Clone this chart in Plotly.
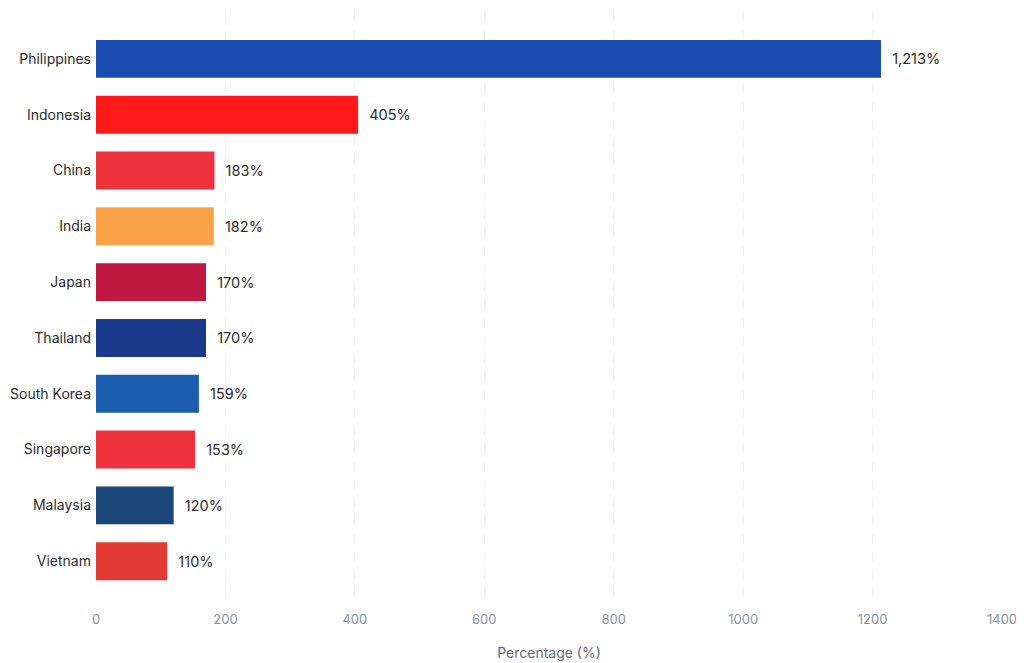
import plotly.graph_objects as go

countries = ["Philippines", "Indonesia", "China", "India", "Japan",
             "Thailand", "South Korea", "Singapore", "Malaysia", "Vietnam"]
percentages = [1213, 405, 183, 182, 170, 170, 159, 153, 120, 110]
bar_colors = ["#1a4bb0", "#ff1a1a", "#ee323c", "#fba348", "#c11a42",
              "#1c3a8c", "#1a5cad", "#ee323c", "#1a4778", "#e03a33"]
x_ticks = [0, 200, 400, 600, 800, 1000, 1200, 1400]

# leading spaces push the value labels away from the bar ends
labels = [f"  {v:,}%" for v in percentages]

fig = go.Figure(go.Bar(
    y=countries,
    x=percentages,
    orientation="h",
    marker=dict(color=bar_colors, line=dict(width=0)),
    width=0.68,
    text=labels,
    textposition="outside",
    textfont=dict(size=14.5, color="#2b2b2b"),
    cliponaxis=False,
))

# page body adds 8px margin, so the figure is sized/offset to compensate
fig.update_layout(
    width=1016,
    height=655,
    margin=dict(l=88, r=22, t=4, b=65),
    plot_bgcolor="white",
    paper_bgcolor="white",
    font=dict(family="Inter, Open Sans, sans-serif", color="#2b2b2b"),
    showlegend=False,
    xaxis=dict(
        range=[0, 1400],
        tickvals=x_ticks,
        ticktext=[str(t) for t in x_ticks],
        showgrid=True,
        gridcolor="#eceef1",
        griddash="dash",
        gridwidth=1,
        zeroline=False,
        showline=False,
        automargin=False,
        tickfont=dict(size=13, color="#8a94a3"),
        ticks="",
        ticklabelstandoff=12,
        title=dict(text="Percentage (%)", font=dict(size=14, color="#5f6b7a"), standoff=22),
    ),
    yaxis=dict(
        categoryorder="array",
        categoryarray=countries,
        range=[9.66, -0.84],
        showgrid=False,
        zeroline=False,
        showline=False,
        automargin=False,
        ticks="",
        ticklabelstandoff=4,
        tickfont=dict(size=14, color="#2b2b2b"),
    ),
)

fig.write_html("out.html")
